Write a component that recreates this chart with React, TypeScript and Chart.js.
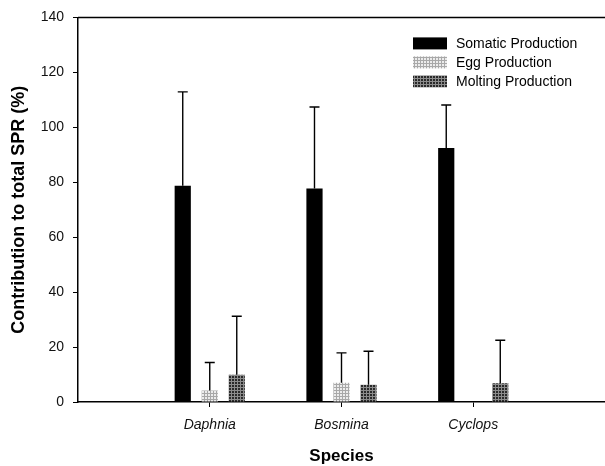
import React, { useEffect, useRef } from 'react';
import { Chart, registerables } from 'chart.js';

Chart.register(...registerables);

const categories = ['', 'Daphnia', 'Bosmina', 'Cyclops', ''];
const seriesNames = ['Somatic Production', 'Egg Production', 'Molting Production'];
const somatic = [null, 78.7, 77.7, 92.5, null];
const somaticErr = [null, 34.2, 29.7, 15.6, null];
const egg = [null, 4.2, 7.0, null, null];
const eggErr = [null, 10.2, 10.9, null, null];
const molting = [null, 9.9, 6.3, 6.8, null];
const moltingErr = [null, 21.3, 12.2, 15.7, null];
const yTicks = [0, 20, 40, 60, 80, 100, 120, 140];

const FONT = "'Liberation Sans', Arial, sans-serif";

function makePattern(bg: string, fg: string): CanvasPattern | string {
  const c = document.createElement('canvas');
  c.width = 3;
  c.height = 3;
  const g = c.getContext('2d');
  if (!g) return bg;
  g.fillStyle = bg;
  g.fillRect(0, 0, 3, 3);
  g.fillStyle = fg;
  g.fillRect(0, 0, 3, 1);
  g.fillRect(0, 0, 1, 3);
  const p = g.createPattern(c, 'repeat');
  return p || bg;
}

export default function App() {
  const ref = useRef<HTMLCanvasElement | null>(null);

  useEffect(() => {
    if (!ref.current) return;
    const eggFill = makePattern('#ececec', '#a8a8a8');
    const moltFill = makePattern('#2a2a2a', '#8c8c8c');
    const fills: any[] = ['#000000', eggFill, moltFill];
    const errs = [somaticErr, eggErr, moltingErr];

    const errorBars = {
      id: 'errorBars',
      afterDatasetsDraw(chart: any) {
        const ctx = chart.ctx;
        const y = chart.scales.y;
        ctx.save();
        ctx.strokeStyle = '#000';
        ctx.lineWidth = 1.4;
        chart.data.datasets.forEach((ds: any, di: number) => {
          const meta = chart.getDatasetMeta(di);
          meta.data.forEach((el: any, i: number) => {
            const v = ds.data[i];
            const e = errs[di][i];
            if (v == null || e == null) return;
            const top = y.getPixelForValue(v + e);
            ctx.beginPath();
            ctx.moveTo(el.x, el.y);
            ctx.lineTo(el.x, top);
            ctx.moveTo(el.x - 5, top);
            ctx.lineTo(el.x + 5, top);
            ctx.stroke();
          });
        });
        ctx.restore();
      },
    };

    const frame = {
      id: 'frame',
      afterDraw(chart: any) {
        const ctx = chart.ctx;
        const a = chart.chartArea;
        ctx.save();
        ctx.strokeStyle = '#000';
        ctx.lineWidth = 1.5;
        ctx.beginPath();
        ctx.moveTo(a.left, a.top);
        ctx.lineTo(a.right, a.top);
        ctx.stroke();
        // legend
        const bx = a.right - 192;
        ctx.font = `14px ${FONT}`;
        ctx.textBaseline = 'middle';
        ctx.fillStyle = '#000';
        seriesNames.forEach((name, i) => {
          const cy = a.top + 26 + i * 19;
          ctx.fillStyle = fills[i];
          ctx.fillRect(bx, cy - 6, 34, 12);
          ctx.fillStyle = '#000';
          ctx.fillText(name, bx + 43, cy + 1);
        });
        ctx.restore();
      },
    };

    const chart = new Chart(ref.current, {
      type: 'bar',
      data: {
        labels: categories,
        datasets: [
          { label: seriesNames[0], data: somatic, backgroundColor: fills[0], categoryPercentage: 0.615, barPercentage: 0.6 },
          { label: seriesNames[1], data: egg, backgroundColor: fills[1], categoryPercentage: 0.615, barPercentage: 0.6 },
          { label: seriesNames[2], data: molting, backgroundColor: fills[2], categoryPercentage: 0.615, barPercentage: 0.6 },
        ] as any,
      },
      options: {
        animation: false,
        responsive: true,
        maintainAspectRatio: false,
        layout: { padding: { left: 0, top: 16, right: 0, bottom: 0 } },
        plugins: { legend: { display: false }, tooltip: { enabled: false } },
        scales: {
          x: {
            offset: false,
            grid: {
              offset: false,
              display: true,
              drawOnChartArea: false,
              drawTicks: true,
              tickLength: 5,
              color: (c: any) => (c.index === 0 || c.index === 4 ? 'rgba(0,0,0,0)' : '#000'),
            },
            border: { display: true, color: '#000', width: 1.5 },
            ticks: {
              color: '#111',
              padding: 10,
              maxRotation: 0,
              autoSkip: false,
              font: { family: FONT, size: 14, style: 'italic' },
            },
            title: {
              display: true,
              text: 'Species',
              color: '#000',
              font: { family: FONT, size: 17, weight: 'bold' },
              padding: { top: 0, bottom: -1 },
            },
            afterFit: (s: any) => {
              s.height = 64;
              s.paddingLeft = 0;
              s.paddingRight = 0;
            },
          },
          y: {
            min: 0,
            max: 140,
            afterBuildTicks: (s: any) => {
              s.ticks = yTicks.map((v) => ({ value: v }));
            },
            grid: {
              display: true,
              drawOnChartArea: false,
              drawTicks: true,
              tickLength: 5,
              color: '#000',
            },
            border: { display: true, color: '#000', width: 1.5 },
            ticks: {
              color: '#111',
              padding: 9,
              font: { family: FONT, size: 14 },
            },
            title: {
              display: true,
              text: 'Contribution to total SPR (%)',
              color: '#000',
              font: { family: FONT, size: 18, weight: 'bold' },
              padding: { top: 8, bottom: 0 },
            },
            afterFit: (s: any) => {
              s.width = 78;
            },
          },
        },
      },
      plugins: [errorBars, frame],
    });
    return () => chart.destroy();
  }, []);

  return (
    <div style={{ position: 'absolute', left: 0, top: 0, width: 605, height: 466, background: '#fff' }}>
      <canvas ref={ref} />
    </div>
  );
}
